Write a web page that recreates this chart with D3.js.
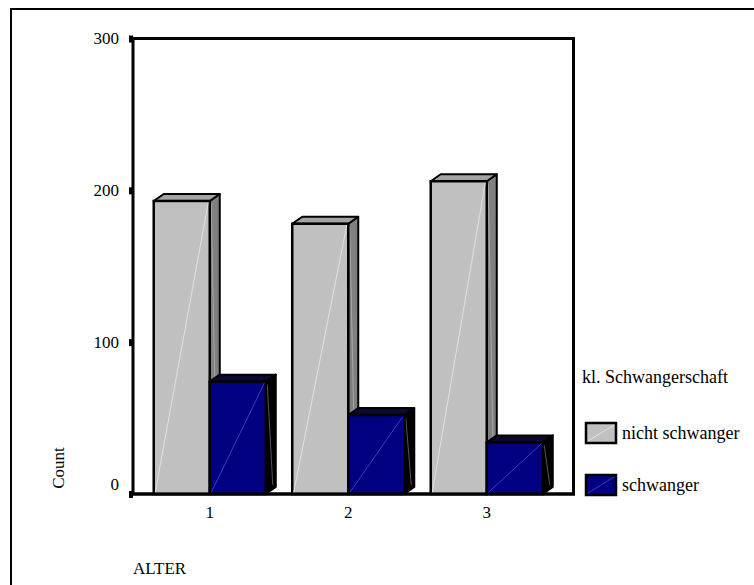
<!DOCTYPE html>
<html>
<head>
<meta charset="utf-8">
<script src="https://cdn.jsdelivr.net/npm/d3@7/dist/d3.min.js"></script>
<style>
  html, body { margin: 0; padding: 0; background: #fff; }
  svg { display: block; }
  text { font-family: 'Liberation Serif', 'DejaVu Serif', serif; fill: #000; }
</style>
</head>
<body>
<div id="chart"></div>
<script>
// counts per age group, by pregnancy class
const ALTER = ['1', '2', '3'];
const SERIES = ['nicht schwanger', 'schwanger'];
const nichtSchwanger = [193, 178, 206];
const schwanger = [74, 52, 34];
const Y_TICKS = [0, 100, 200, 300];

const W = 754, H = 585;
const plotL = 133, plotR = 573.5, plotT = 38.5, plotB = 494;
const DX = 10, DY = 7;

const STYLE = {
  'nicht schwanger': { front: '#c0c0c0', side: '#808080', topf: '#a4a4a4', diag: '#e8e8e8', sideLine: '#b0b0b0' },
  'schwanger':       { front: '#000080', side: '#000000', topf: '#0a0a2a', diag: '#4a4ad0', sideLine: '#6a6a6a' }
};

const rows = ALTER.map((a, i) => ({
  alter: a,
  values: [
    { key: SERIES[0], value: nichtSchwanger[i] },
    { key: SERIES[1], value: schwanger[i] }
  ]
}));

const svg = d3.select('#chart').append('svg')
  .attr('width', W).attr('height', H);

// outer frame (only top/left edges fall inside the picture)
svg.append('path')
  .attr('d', `M11,${H + 5} L11,9 L${W + 5},9`)
  .attr('fill', 'none').attr('stroke', '#000').attr('stroke-width', 2);

const y = d3.scaleLinear().domain([0, 300]).range([plotB, plotT]);
const x0 = d3.scaleBand().domain(ALTER).range([140.5, 556]).paddingInner(0.191).paddingOuter(0.0955);
const x1 = d3.scaleBand().domain(SERIES).range([0, x0.bandwidth()]);

// plot frame
svg.append('rect')
  .attr('x', plotL).attr('y', plotT)
  .attr('width', plotR - plotL).attr('height', plotB - plotT)
  .attr('fill', 'none').attr('stroke', '#000').attr('stroke-width', 3);

// bars
const groups = svg.selectAll('g.grp')
  .data(rows)
  .join('g')
  .attr('class', 'grp')
  .attr('transform', d => `translate(${x0(d.alter)},0)`);

groups.each(function(d) {
  const g = d3.select(this);
  d.values.forEach(v => {
    const s = STYLE[v.key];
    const xa = x1(v.key), xb = xa + x1.bandwidth();
    const yt = y(v.value), yb = y(0);
    // side face
    g.append('path')
      .attr('d', `M${xb},${yt} L${xb + DX},${yt - DY} L${xb + DX},${yb - DY} L${xb},${yb} Z`)
      .attr('fill', s.side).attr('stroke', '#000').attr('stroke-width', 2).attr('stroke-linejoin', 'round');
    g.append('line')
      .attr('x1', xb + 1.5).attr('y1', yt + 3)
      .attr('x2', xb + DX - 3).attr('y2', yb - DY - 2)
      .attr('stroke', s.sideLine).attr('stroke-width', 0.8);
    // top face
    g.append('path')
      .attr('d', `M${xa},${yt} L${xa + DX},${yt - DY} L${xb + DX},${yt - DY} L${xb},${yt} Z`)
      .attr('fill', s.topf).attr('stroke', '#000').attr('stroke-width', 2).attr('stroke-linejoin', 'round');
    // front face
    g.append('rect')
      .attr('x', xa).attr('y', yt)
      .attr('width', xb - xa).attr('height', yb - yt)
      .attr('fill', s.front).attr('stroke', '#000').attr('stroke-width', 2.5);
    g.append('line')
      .attr('x1', xa + 1.5).attr('y1', yb - 1.5)
      .attr('x2', xb - 1.5).attr('y2', yt + 1.5)
      .attr('stroke', s.diag).attr('stroke-width', 0.8);
  });
});

// baseline redrawn over the bars
svg.append('line')
  .attr('x1', plotL - 2).attr('x2', plotR + 1.5)
  .attr('y1', plotB).attr('y2', plotB)
  .attr('stroke', '#000').attr('stroke-width', 3);

// y axis
const yAxis = svg.append('g')
  .attr('transform', `translate(${plotL},0)`)
  .call(d3.axisLeft(y).tickValues(Y_TICKS).tickSize(4).tickPadding(10));
yAxis.select('.domain').remove();
yAxis.selectAll('.tick line').attr('stroke', '#000').attr('stroke-width', 7);
yAxis.selectAll('.tick text')
  .attr('font-size', 17)
  .attr('font-family', "'Liberation Serif', serif")
  .attr('dy', d => d === 0 ? '-0.25em' : '0.32em');

// x axis labels
const xAxis = svg.append('g')
  .attr('transform', `translate(0,${plotB})`)
  .call(d3.axisBottom(x0).tickSize(0).tickPadding(12));
xAxis.select('.domain').remove();
xAxis.selectAll('.tick text')
  .attr('font-size', 17)
  .attr('font-family', "'Liberation Serif', serif");

// axis titles
svg.append('text')
  .attr('transform', `translate(64,468) rotate(-90)`)
  .attr('text-anchor', 'middle')
  .attr('font-size', 17)
  .text('Count');
svg.append('text')
  .attr('x', 133).attr('y', 574)
  .attr('font-size', 17)
  .text('ALTER');

// legend
svg.append('text')
  .attr('x', 582).attr('y', 383)
  .attr('font-size', 18)
  .text('kl. Schwangerschaft');

const legend = svg.selectAll('g.leg')
  .data(SERIES)
  .join('g')
  .attr('class', 'leg')
  .attr('transform', (d, i) => `translate(586,${423 + i * 52})`);
legend.append('rect')
  .attr('width', 30).attr('height', 20)
  .attr('fill', d => STYLE[d].front)
  .attr('stroke', '#000').attr('stroke-width', 2.5);
legend.append('line')
  .attr('x1', 2).attr('y1', 18).attr('x2', 28).attr('y2', 2)
  .attr('stroke', d => STYLE[d].diag).attr('stroke-width', 0.8);
legend.append('text')
  .attr('x', 36).attr('y', 16)
  .attr('font-size', 18)
  .text(d => d);
</script>
</body>
</html>
